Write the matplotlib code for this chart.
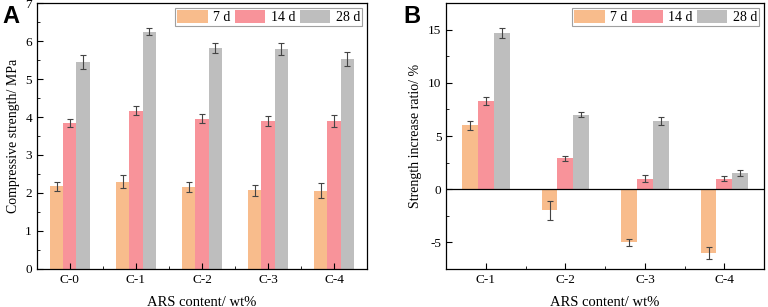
import numpy as np
import matplotlib
matplotlib.use("Agg")
import matplotlib.pyplot as plt
from matplotlib.ticker import MultipleLocator

# panel A: compressive strength
cats_a = ["C-0", "C-1", "C-2", "C-3", "C-4"]
a_7d = [2.18, 2.30, 2.15, 2.07, 2.06]
a_7d_err = [0.12, 0.17, 0.13, 0.15, 0.19]
a_14d = [3.85, 4.17, 3.96, 3.89, 3.89]
a_14d_err = [0.10, 0.12, 0.13, 0.13, 0.15]
a_28d = [5.45, 6.25, 5.82, 5.79, 5.52]
a_28d_err = [0.19, 0.10, 0.14, 0.16, 0.18]

# panel B: strength increase ratio
cats_b = ["C-1", "C-2", "C-3", "C-4"]
b_7d = [6.0, -2.0, -5.0, -6.0]
b_7d_err = [0.45, 0.9, 0.35, 0.6]
b_14d = [8.3, 2.9, 1.0, 1.0]
b_14d_err = [0.4, 0.25, 0.35, 0.25]
b_28d = [14.7, 7.0, 6.4, 1.5]
b_28d_err = [0.45, 0.25, 0.4, 0.3]

labels = ["7 d", "14 d", "28 d"]
colors = ["#F8BC8C", "#F8939A", "#BEBEBE"]

plt.rcParams['font.family'] = ['Liberation Serif', 'DejaVu Serif']
plt.rcParams['axes.unicode_minus'] = False

fig = plt.figure(figsize=(7.68, 3.07), dpi=100)
axA = fig.add_axes([0.048, 0.124, 0.430, 0.866])
axB = fig.add_axes([0.581, 0.124, 0.414, 0.866])


def draw_bars(ax, cats, series, errs):
    x = np.arange(len(cats))
    w = 0.2
    for i, (vals, err) in enumerate(zip(series, errs)):
        ax.bar(x + (i - 1) * w, vals, w, color=colors[i], label=labels[i],
               yerr=err, error_kw=dict(ecolor="#444444", elinewidth=0.8,
                                       capsize=2.5, capthick=0.8))
    ax.set_xticks(x)
    ax.set_xticklabels(cats)
    ax.xaxis.set_minor_locator(MultipleLocator(0.5))
    ax.set_xlim(-0.5, len(cats) - 0.5)
    ax.tick_params(axis="both", which="both", direction="in", labelsize=9.5)
    ax.tick_params(which="major", length=4)
    ax.tick_params(which="minor", length=2.5)
    for sp in ax.spines.values():
        sp.set_linewidth(0.9)
    ax.set_xlabel("ARS content/ wt%", fontsize=10.5, labelpad=7)
    leg = ax.legend(loc="upper right", ncol=3, fontsize=10, frameon=True,
                    fancybox=False, edgecolor="#888888", handlelength=2.2,
                    handleheight=1.1, columnspacing=0.3, handletextpad=0.4,
                    borderpad=0.15, borderaxespad=0.35)
    leg.get_frame().set_linewidth(0.8)


draw_bars(axA, cats_a, [a_7d, a_14d, a_28d], [a_7d_err, a_14d_err, a_28d_err])
axA.set_ylim(0, 7)
axA.yaxis.set_major_locator(MultipleLocator(1))
axA.yaxis.set_minor_locator(MultipleLocator(0.5))
axA.set_ylabel("Compressive strength/ MPa", fontsize=10)

draw_bars(axB, cats_b, [b_7d, b_14d, b_28d], [b_7d_err, b_14d_err, b_28d_err])
axB.set_ylim(-7.5, 17.5)
axB.yaxis.set_major_locator(MultipleLocator(5))
axB.yaxis.set_minor_locator(MultipleLocator(2.5))
axB.axhline(0, color="black", linewidth=0.9)
axB.set_ylabel("Strength increase ratio/ %", fontsize=10)

fig.text(0.003, 0.985, "A", fontsize=17, fontweight="bold",
         family="Liberation Sans", va="top")
fig.text(0.525, 0.985, "B", fontsize=17, fontweight="bold",
         family="Liberation Sans", va="top")

fig.savefig("out.png", dpi=100)
